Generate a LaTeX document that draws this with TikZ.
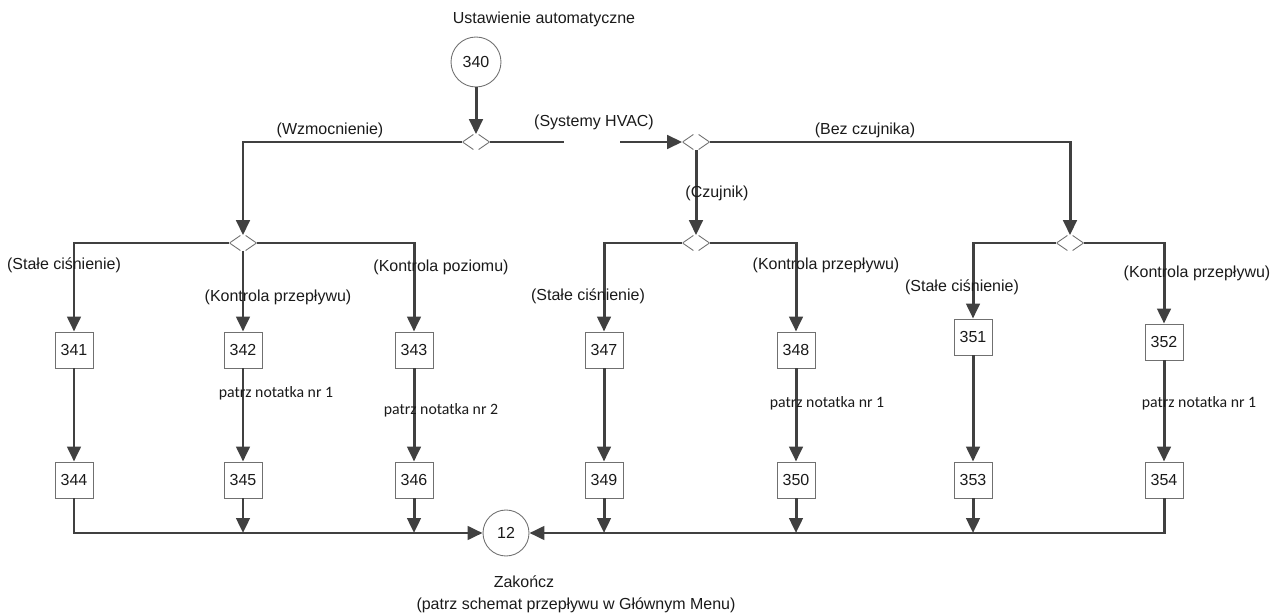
\documentclass[tikz,border=0pt]{standalone}
\usepackage{fontspec}
\setmainfont{Liberation Sans}
\newfontfamily\notefont{Carlito}
\usetikzlibrary{arrows.meta}
\definecolor{ink}{HTML}{1A1A1A}
\definecolor{wirecol}{HTML}{404040}
\definecolor{frame}{HTML}{707070}

\begin{document}
\begin{tikzpicture}[
  x=0.02cm, y=-0.02cm,
  text=ink, font=\fontsize{9.1}{10.8}\selectfont,
  box/.style={draw=frame, line width=.5pt, minimum width=.76cm,
    minimum height=.72cm, inner sep=0pt},
  term/.style={circle, draw=frame, line width=.5pt, minimum size=.92cm, inner sep=0pt},
  split/.style={minimum width=.54cm, minimum height=.3cm, inner sep=0pt,
    path picture={\draw[frame, line width=.5pt]
      ([xshift=-1.5pt]path picture bounding box.north) -- (path picture bounding box.west)
        -- ([xshift=-1.5pt]path picture bounding box.south)
      ([xshift=1.5pt]path picture bounding box.north) -- (path picture bounding box.east)
        -- ([xshift=1.5pt]path picture bounding box.south);}},
  wire/.style={draw=wirecol, line width=1.7pt},
  arrow/.style={wire, -{Triangle[length=3mm, width=2.7mm]}},
  label/.style={align=center},
  note/.style={font=\notefont\fontsize{9}{11}\selectfont}
]
  \useasboundingbox (0,0) rectangle (1277,614);

  \node[label] (title) at (544,19) {Ustawienie automatyczne};
  \node[term, minimum size=1cm] (n340) at (476,62) {340};

  \node[split] (s1) at (476,142) {};
  \node[split] (s2) at (243,243) {};
  \node[split] (s3) at (696,142) {};
  \node[split] (s4) at (696,243) {};
  \node[split] (s5) at (1070,243) {};
  \coordinate (gapL) at (564,142);
  \coordinate (gapR) at (620,142);

  \node[box] (n341) at (74,350) {341};
  \node[box] (n342) at (243,350) {342};
  \node[box] (n343) at (414,350) {343};
  \node[box] (n347) at (604,350) {347};
  \node[box] (n348) at (796,350) {348};
  \node[box] (n351) at (973,337) {351};
  \node[box] (n352) at (1164,342) {352};

  \node[box] (n344) at (74,480) {344};
  \node[box] (n345) at (243,480) {345};
  \node[box] (n346) at (414,480) {346};
  \node[box] (n349) at (604,480) {349};
  \node[box] (n350) at (796,480) {350};
  \node[box] (n353) at (973,480) {353};
  \node[box] (n354) at (1164,480) {354};

  \node[term] (n12) at (506,533) {12};
  \node[label] (endlabel) at (524,582) {Zakończ};
  \node[label] (endnote) at (576,605) {(patrz schemat przepływu w Głównym Menu)};

  \draw[arrow] (n340) -- (s1);
  \draw[wire] (s1.east) -- (gapL);
  \draw[arrow] (gapR) -- (s3.west);
  \draw[arrow] (s1.west) -| (s2.north);
  \draw[arrow] (s3.east) -| (s5.north);
  \draw[arrow] (s3.south) -- (s4.north);

  \draw[arrow] (s2.west) -| (n341.north);
  \draw[arrow] (s2.south) -- (n342.north);
  \draw[arrow] (s2.east) -| (n343.north);
  \draw[arrow] (s4.west) -| (n347.north);
  \draw[arrow] (s4.east) -| (n348.north);
  \draw[arrow] (s5.west) -| (n351.north);
  \draw[arrow] (s5.east) -| (n352.north);

  \foreach \a/\b in {341/344, 342/345, 343/346, 347/349, 348/350, 351/353, 352/354}
    \draw[arrow] (n\a.south) -- (n\b.north);

  \draw[arrow] (n344.south) |- (n12.west);
  \draw[arrow] (n354.south) |- (n12.east);
  \foreach \b in {345, 346, 349, 350, 353}
    \draw[arrow] (n\b.south) -- (n\b.south |- n12.center);

  \node[label] (lwzm) at (330,130) {(Wzmocnienie)};
  \node[label] (lhvac) at (594,122) {(Systemy HVAC)};
  \node[label] (lbez) at (865,130) {(Bez czujnika)};
  \node[label] (lczu) at (717,193) {(Czujnik)};

  \node[label] (lsc1) at (64,265) {(Stałe ciśnienie)};
  \node[label] (lkp1) at (278,297) {(Kontrola przepływu)};
  \node[label] (lkpz) at (441,267) {(Kontrola poziomu)};
  \node[label] (lsc2) at (588,296) {(Stałe ciśnienie)};
  \node[label] (lkp2) at (826,265) {(Kontrola przepływu)};
  \node[label] (lsc3) at (962,287) {(Stałe ciśnienie)};
  \node[label] (lkp3) at (1197,273) {(Kontrola przepływu)};

  \node[note] (note1) at (276,393) {patrz notatka nr 1};
  \node[note] (note2) at (441,410) {patrz notatka nr 2};
  \node[note] (note3) at (827,403) {patrz notatka nr 1};
  \node[note] (note4) at (1199,403) {patrz notatka nr 1};
\end{tikzpicture}
\end{document}
